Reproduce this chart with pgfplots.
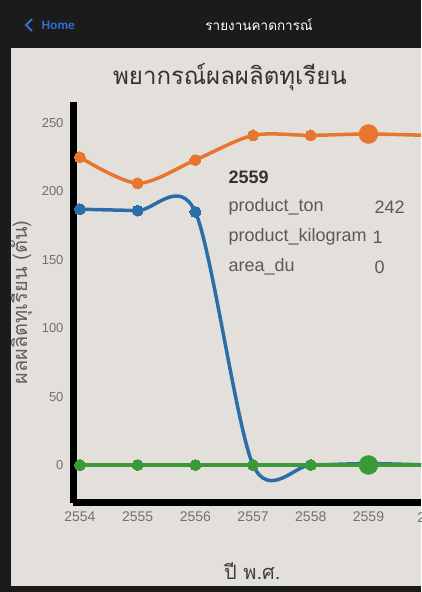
\documentclass[border=0pt]{standalone}
\usepackage{pgfplots}
\pgfplotsset{compat=1.18}
\usepackage{fontspec}
\setmainfont{Liberation Sans}
\newfontfamily\thaifont[Script=Thai]{Loma}
\definecolor{bg}{HTML}{E3E0DB}
\definecolor{hdr}{HTML}{1B1B1C}
\definecolor{cor}{HTML}{E8762E}
\definecolor{cbl}{HTML}{2B6DA8}
\definecolor{cgr}{HTML}{3B9A38}
\definecolor{tick}{HTML}{707070}
\definecolor{ios}{HTML}{2F6FD6}
\begin{document}
\begin{tikzpicture}
\clip (0pt,0pt) rectangle (421pt,592pt);
\fill[bg] (0pt,0pt) rectangle (421pt,592pt);
\fill[hdr] (0pt,544pt) rectangle (421pt,592pt);
\fill[hdr] (0pt,0pt) rectangle (11pt,592pt);
\fill[hdr] (0pt,0pt) rectangle (421pt,6pt);
\node[text=ios,font=\fontsize{12}{12}\selectfont\bfseries,anchor=west] at (38pt,567pt) {Home};
\draw[ios,line width=2pt] (32pt,573pt) -- (26pt,567pt) -- (32pt,561pt);
\node[text=white,font=\thaifont\fontsize{13.5}{13.5}\selectfont] at (259pt,567pt) {รายงานคาดการณ์};
\begin{axis}[
  at={(73pt,89pt)}, anchor=south west,
  scale only axis, width=348pt, height=401pt,
  xmin=2553.88, xmax=2559.91, ymin=-27.8, ymax=265.4,
  axis x line*=bottom, axis y line*=left,
  axis line style={line width=7pt,black,-},
  xtick={2554,2555,2556,2557,2558,2559},
  xticklabels={2554,2555,2556,2557,2558,2559},
  ytick={0,50,100,150,200,250},
  yticklabels={0,50,100,150,200,250},
  major tick length=0pt,
  xticklabel style={text=tick,font=\fontsize{14}{14}\selectfont,yshift=-5pt},
  yticklabel style={text=tick,font=\fontsize{13}{13}\selectfont,xshift=-6pt},
  title={พยากรณ์ผลผลิตทุเรียน},
  title style={font=\thaifont\fontsize{24}{24}\selectfont,text=black!80,at={(axis description cs:0.451,1.047)},anchor=center},
  xlabel={ปี พ.ศ.},
  xlabel style={font=\thaifont\fontsize{20}{20}\selectfont,text=black!75,at={(axis description cs:0.515,-0.17)},anchor=center},
  ylabel={ผลผลิตทุเรียน (ตัน)},
  ylabel style={font=\thaifont\fontsize{20}{20}\selectfont,text=black!62,at={(axis description cs:-0.149,0.5)},anchor=center,rotate=0},
]
\addplot[cor,line width=3.5pt,smooth,tension=0.5,mark=*,mark size=5.5pt,mark options={fill=cor,draw=cor,line width=0pt}]
  coordinates {(2554,225)(2555,206)(2556,223)(2557,241)(2558,241)(2559,242)(2560,241)};
\addplot[cbl,line width=3.5pt,smooth,tension=0.5,mark=*,mark size=5.5pt,mark options={fill=cbl,draw=cbl,line width=0pt}]
  coordinates {(2554,187)(2555,186)(2556,185)(2557,0)(2558,0)(2559,1)(2560,0)};
\addplot[cgr,line width=4.5pt,mark=*,mark size=5.5pt,mark options={fill=cgr,draw=cgr,line width=0pt}]
  coordinates {(2554,0)(2555,0)(2556,0)(2557,0)(2558,0)(2559,0)(2560,0)};
\addplot[only marks,mark=*,mark size=9.5pt,cor,mark options={fill=cor,draw=cor}] coordinates {(2559,242)};
\addplot[only marks,mark=*,mark size=9.5pt,cgr,mark options={fill=cgr,draw=cgr}] coordinates {(2559,0)};
\end{axis}
\node[text=tick,font=\fontsize{14}{14}\selectfont] at (433pt,74pt) {2560};
\node[text=black!80,font=\fontsize{18}{18}\selectfont\bfseries,anchor=west] at (225pt,415pt) {2559};
\node[text=black!65,font=\fontsize{18}{18}\selectfont,anchor=west] at (225pt,385pt) {product\_ton};
\node[text=black!65,font=\fontsize{18}{18}\selectfont,anchor=west] at (225pt,355pt) {product\_kilogram};
\node[text=black!65,font=\fontsize{18}{18}\selectfont,anchor=west] at (371pt,385pt) {242};
\node[text=black!65,font=\fontsize{18}{18}\selectfont,anchor=west] at (225pt,325pt) {area\_du};
\node[text=black!65,font=\fontsize{18}{18}\selectfont,anchor=west] at (369pt,355pt) {1};
\node[text=black!65,font=\fontsize{18}{18}\selectfont,anchor=west] at (371pt,325pt) {0};
\end{tikzpicture}
\end{document}
